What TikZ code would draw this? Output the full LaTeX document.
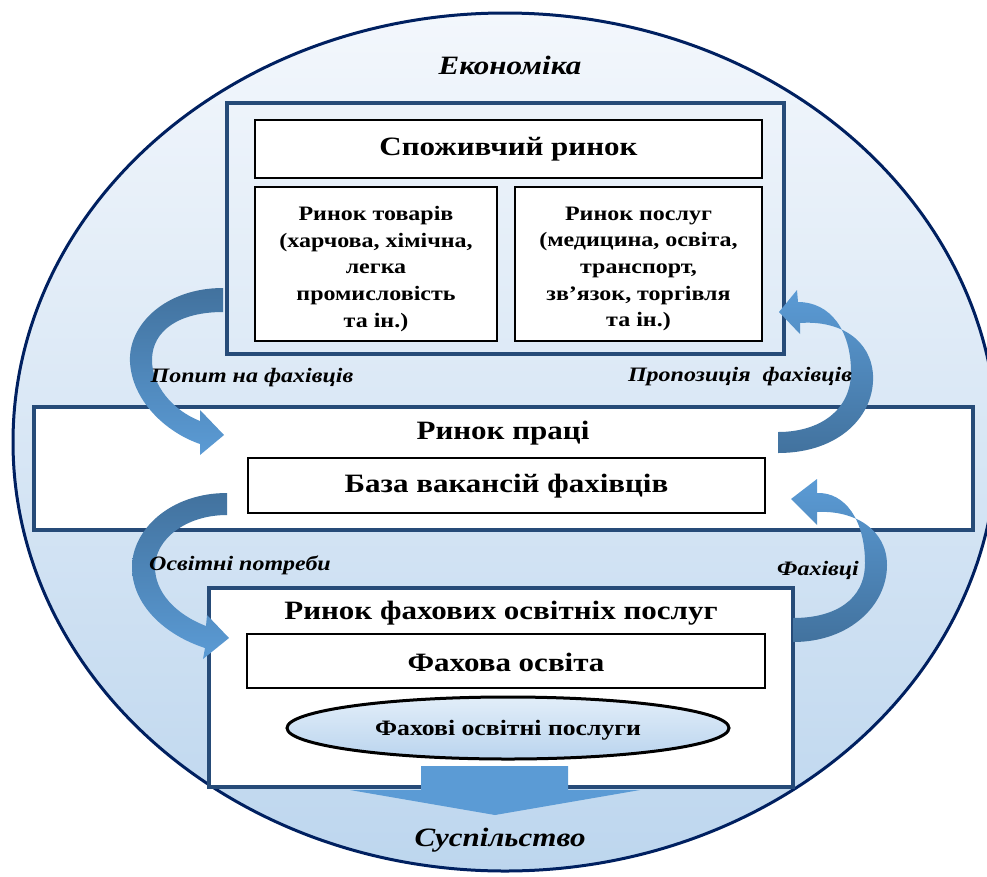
\documentclass[tikz,border=0pt]{standalone}
\usepackage{fontspec}
\setmainfont{Liberation Serif}[FakeStretch=1.17]
\usetikzlibrary{shapes.geometric}
\definecolor{circtop}{RGB}{243,247,252}
\definecolor{circmid}{RGB}{210,227,243}
\definecolor{circbot}{RGB}{189,214,238}
\definecolor{navy}{RGB}{0,32,96}
\definecolor{boxblue}{RGB}{38,75,120}
\definecolor{arrdark}{RGB}{66,114,158}
\definecolor{arrlight}{RGB}{91,155,213}
\definecolor{elltop}{RGB}{226,238,249}
\definecolor{ellbot}{RGB}{186,212,238}
\tikzset{
  bluebox/.style={draw=boxblue, line width=4pt, fill=white, inner sep=0pt},
  blackbox/.style={draw=black, line width=2.2pt, fill=white, inner sep=0pt},
  titletext/.style={font=\fontsize{26.5}{30}\selectfont\bfseries},
  subtext/.style={font=\fontsize{20.5}{26.7}\selectfont\bfseries, align=center},
  elltext/.style={font=\fontsize{22}{26}\selectfont\bfseries},
  italabel/.style={font=\fontsize{20.5}{24}\selectfont\bfseries\itshape},
  biglabel/.style={font=\fontsize{26.5}{30}\selectfont\bfseries\itshape},
  ribbondown/.style={top color=arrdark, bottom color=arrlight},
  ribbonup/.style={top color=arrlight, bottom color=arrdark},
}
\begin{document}
\begin{tikzpicture}[x=1pt,y=-1pt]
\useasboundingbox (0,0) rectangle (987,876);
\clip (0,0) rectangle (987,876);
% outer circle
\node (econ) [ellipse, minimum width=984pt, minimum height=858pt, draw=navy, line width=3pt,
  top color=circtop, middle color=circmid, bottom color=circbot, inner sep=0pt] at (505,442) {};
\node (econlbl) [biglabel] at (510,65) {Економіка};
% consumer market
\node (cont) [draw=boxblue, line width=4pt, minimum width=557pt, minimum height=251pt, inner sep=0pt] at (505.5,228.5) {};
\node (spozh) [blackbox, minimum width=507pt, minimum height=58pt] at (508.5,149) {};
\node (spozhtxt) [titletext] at (508.5,149) {Споживчий ринок};
\node (tov) [blackbox, minimum width=242pt, minimum height=154pt] at (376,264) {};
\node (tovtxt) [subtext] at (376,269) {Ринок товарів\\(харчова, хімічна,\\легка\\промисловість\\та ін.)};
\node (posl) [blackbox, minimum width=247pt, minimum height=154pt] at (638.5,264) {};
\node (posltxt) [subtext] at (638.5,269) {Ринок послуг\\(медицина, освіта,\\транспорт,\\зв’язок, торгівля\\та ін.)};
% labour market
\node (labor) [bluebox, minimum width=939pt, minimum height=123pt] at (503.5,468.5) {};
\node (labortxt) [titletext] at (503,433) {Ринок праці};
\node (baza) [blackbox, minimum width=517pt, minimum height=55pt] at (506.5,485.5) {};
\node (bazatxt) [titletext] at (506.5,486) {База вакансій фахівців};
% education market
\node (edu) [bluebox, minimum width=584pt, minimum height=199pt] at (501,687.5) {};
\node (edutxt) [titletext] at (501,613) {Ринок фахових освітніх послуг};
\node (fakh) [blackbox, minimum width=518pt, minimum height=54pt] at (506,661) {};
\node (fakhtxt) [titletext] at (506,662) {Фахова освіта};
\node (ell) [ellipse, draw=black, line width=3pt, minimum width=442pt, minimum height=62pt,
  top color=elltop, bottom color=ellbot, inner sep=0pt] at (508,728) {};
\node (elltxt) [elltext] at (508,730) {Фахові освітні послуги};
% bottom arrow
\fill[arrlight] (421,766) -- (568,766) -- (568,790) -- (640,790) -- (495,815) -- (350,790) -- (421,790) -- cycle;
\node (susp) [biglabel] at (500,840) {Суспільство};
% curved arrows
\path[ribbondown] (223,288) .. controls (165,288) and (128,325) .. (130,362)
  .. controls (132,400) and (165,432) .. (200,444) -- (200,455) -- (224,435) -- (200,410) -- (200,421)
  .. controls (172,410) and (152,385) .. (152,360) .. controls (152,330) and (180,312) .. (223,312) -- cycle;
\path[ribbonup] (778,453) .. controls (840,453) and (875,415) .. (873,375)
  .. controls (871,340) and (840,320) .. (800,323) -- (800,334) -- (779,312) -- (797,290) -- (798,302)
  .. controls (830,302) and (851,330) .. (851,372) .. controls (851,410) and (820,432) .. (778,432) -- cycle;
\path[ribbondown] (227,493) .. controls (170,493) and (132,530) .. (132,567)
  .. controls (132,605) and (165,635) .. (205,648) -- (203,659) -- (229,638) -- (207,615) -- (206,626)
  .. controls (175,614) and (155,592) .. (155,567) .. controls (155,540) and (185,515) .. (227,515) -- cycle;
\path[ribbonup] (793,642) .. controls (850,642) and (887,605) .. (887,565)
  .. controls (887,530) and (855,510) .. (817,512) -- (817,525) -- (791,499) -- (817,479) -- (817,493)
  .. controls (845,492) and (865,520) .. (865,563) .. controls (865,600) and (835,618) .. (793,618) -- cycle;
% labels
\node (popyt) [italabel] at (252,378) {Попит на фахівців};
\node (propoz) [italabel] at (740,377) {Пропозиція~ фахівців};
\node (osvpot) [italabel] at (240,565) {Освітні потреби};
\node (fakhivtsi) [italabel] at (818,570) {Фахівці};
\end{tikzpicture}
\end{document}
